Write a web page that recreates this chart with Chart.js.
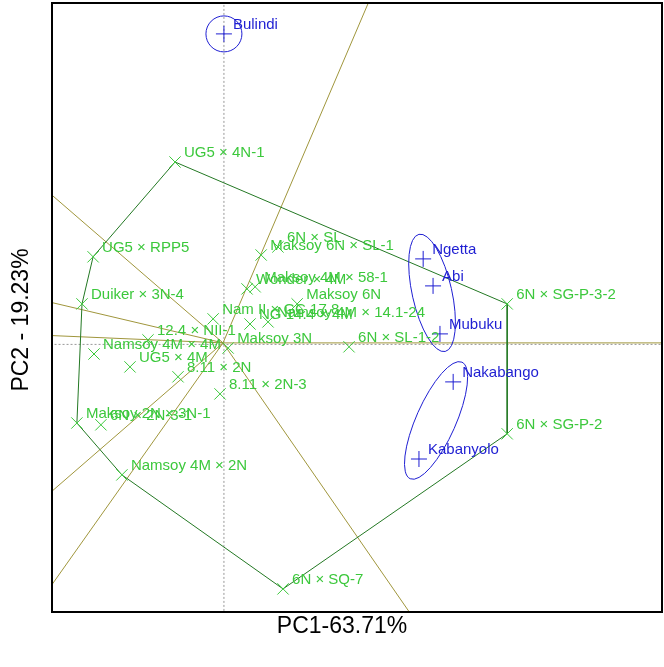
<!DOCTYPE html>
<html>
<head>
<meta charset="utf-8">
<script src="https://cdn.jsdelivr.net/npm/chart.js@4.4.0/dist/chart.umd.min.js"></script>
<style>
    html, body { margin: 0; padding: 0; background: #fff; overflow: hidden; }
    #wrap { width: 664px; height: 667px; position: relative; }
</style>
</head>
<body>
<div id="wrap"><canvas id="myChart"></canvas></div>
<script>
// Genotype scores (PC1, PC2)
const genotypes = [
    'UG5 × 4N-1', 'UG5 × RPP5', 'Duiker × 3N-4', 'Namsoy 4M × 4M', 'UG5 × 4M',
    '12.4 × NII-1', 'Nam II × GC 17.8', 'NG 14.4 × 4M', 'Namsoy 4M × 14.1-24', 'Maksoy 6N',
    'Wonder × 4M', 'Maksoy 4M × 58-1', '6N × SL', 'Maksoy 6N × SL-1', 'Maksoy 3N',
    '6N × SL-1-2', '8.11 × 2N', '8.11 × 2N-3', 'Maksoy 2N × 3N-1', '6N × 2N-3-1',
    'Namsoy 4M × 2N', '6N × SQ-7', '6N × SG-P-2', '6N × SG-P-3-2'
];
const genoPC1 = [-1.6, -4.33, -4.7, -4.3, -3.1, -2.5, -0.33, 0.9, 1.5, 2.47,
    0.8, 1.07, 1.83, 1.27, 0.17, 4.2, -1.5, -0.1, -4.87, -4.07, -3.37, 2.0, 9.47, 9.47];
const genoPC2 = [6.03, 2.87, 1.3, -0.37, -0.8, 0.1, 0.8, 0.63, 0.7, 1.3,
    1.8, 1.87, 3.2, 2.93, -0.17, -0.13, -1.13, -1.7, -2.67, -2.73, -4.4, -8.2, -3.03, 1.3];

// Environment scores
const envs = ['Bulindi', 'Ngetta', 'Abi', 'Mubuku', 'Nakabango', 'Kabanyolo'];
const envPC1 = [0.03, 6.67, 7.0, 7.23, 7.67, 6.53];
const envPC2 = [10.3, 2.8, 1.9, 0.3, -1.3, -3.87];

// Polygon vertices (which-won-where) and mega-environment groups
const hullOrder = ['UG5 × 4N-1', '6N × SG-P-3-2', '6N × SG-P-2', '6N × SQ-7',
    'Namsoy 4M × 2N', 'Maksoy 2N × 3N-1', 'Duiker × 3N-4', 'UG5 × RPP5'];
const envGroups = [['Bulindi'], ['Ngetta', 'Abi', 'Mubuku'], ['Nakabango', 'Kabanyolo']];

const xTitle = 'PC1-63.71%';
const yTitle = 'PC2 - 19.23%';

const GENO_COLOR = 'rgb(60,200,60)';
const ENV_COLOR = 'rgb(30,30,210)';
const HULL_COLOR = 'rgb(35,120,35)';
const RAY_COLOR = 'rgb(160,150,60)';
const FONT = '"Liberation Sans", Arial, sans-serif';

function genoPoint(name) {
    const i = genotypes.indexOf(name);
    return { x: genoPC1[i], y: genoPC2[i] };
}

// Hull edges closed
const hullPts = hullOrder.map(genoPoint);
hullPts.push(hullPts[0]);

// Rays from origin perpendicular to each hull edge
const rayDatasets = [];
for (let k = 0; k < hullOrder.length; k++) {
    const a = hullPts[k], b = hullPts[k + 1];
    const dx = b.x - a.x, dy = b.y - a.y;
    const t = -(a.x * dx + a.y * dy) / (dx * dx + dy * dy);
    const fx = a.x + t * dx, fy = a.y + t * dy;
    rayDatasets.push({
        data: [{ x: 0, y: 0 }, { x: fx * 50, y: fy * 50 }],
        showLine: true,
        borderColor: RAY_COLOR,
        borderWidth: 1,
        pointRadius: 0,
        order: 5
    });
}

const biplotExtras = {
    id: 'biplotExtras',
    afterDatasetsDraw(chart) {
        const ctx = chart.ctx;
        const xs = chart.scales.x, ys = chart.scales.y;
        const unit = xs.getPixelForValue(1) - xs.getPixelForValue(0);
        ctx.save();

        // ellipses round environment groups
        ctx.strokeStyle = ENV_COLOR;
        ctx.lineWidth = 1;
        envGroups.forEach(group => {
            const idx = group.map(n => envs.indexOf(n));
            const px = idx.map(i => xs.getPixelForValue(envPC1[i]));
            const py = idx.map(i => ys.getPixelForValue(envPC2[i]));
            const cx = px.reduce((s, v) => s + v, 0) / px.length;
            const cy = py.reduce((s, v) => s + v, 0) / py.length;
            ctx.beginPath();
            if (idx.length === 1) {
                ctx.arc(cx, cy, 0.6 * unit, 0, Math.PI * 2);
            } else {
                const ddx = px[px.length - 1] - px[0];
                const ddy = py[py.length - 1] - py[0];
                const half = Math.hypot(ddx, ddy) / 2 + 0.72 * unit;
                ctx.ellipse(cx, cy, half, 0.66 * unit, Math.atan2(ddy, ddx), 0, Math.PI * 2);
            }
            ctx.stroke();
        });

        // point labels
        ctx.font = '15px ' + FONT;
        ctx.textBaseline = 'middle';
        ctx.textAlign = 'left';
        ctx.fillStyle = GENO_COLOR;
        genotypes.forEach((g, i) => {
            ctx.fillText(g, xs.getPixelForValue(genoPC1[i]) + 9, ys.getPixelForValue(genoPC2[i]) - 9);
        });
        ctx.fillStyle = ENV_COLOR;
        envs.forEach((e, i) => {
            ctx.fillText(e, xs.getPixelForValue(envPC1[i]) + 9, ys.getPixelForValue(envPC2[i]) - 9);
        });
        ctx.restore();
    },
    afterDraw(chart) {
        const ctx = chart.ctx;
        const area = chart.chartArea;
        ctx.save();
        ctx.strokeStyle = '#000';
        ctx.lineWidth = 2;
        ctx.strokeRect(area.left, area.top, area.right - area.left, area.bottom - area.top);

        ctx.fillStyle = '#000';
        ctx.font = '23px ' + FONT;
        ctx.textAlign = 'center';
        ctx.textBaseline = 'middle';
        ctx.fillText(xTitle, 342, 627);
        ctx.translate(22, 320);
        ctx.rotate(-Math.PI / 2);
        ctx.fillText(yTitle, 0, 0);
        ctx.restore();
    }
};

const ctx = document.getElementById('myChart');
const myChart = new Chart(ctx, {
    type: 'scatter',
    data: {
        datasets: [
            {
                data: [{ x: 0.03, y: -100 }, { x: 0.03, y: 100 }],
                showLine: true, borderColor: '#999', borderWidth: 1,
                borderDash: [2, 2], pointRadius: 0, order: 6
            },
            {
                data: [{ x: -100, y: -0.05 }, { x: 100, y: -0.05 }],
                showLine: true, borderColor: '#999', borderWidth: 1,
                borderDash: [2, 2], pointRadius: 0, order: 6
            },
            ...rayDatasets,
            {
                data: hullPts,
                showLine: true,
                borderColor: HULL_COLOR,
                borderWidth: 1,
                pointRadius: 0,
                order: 4
            },
            {
                data: genotypes.map((g, i) => ({ x: genoPC1[i], y: genoPC2[i] })),
                pointStyle: 'crossRot',
                pointRadius: 8,
                borderColor: GENO_COLOR,
                borderWidth: 1,
                order: 2
            },
            {
                data: envs.map((e, i) => ({ x: envPC1[i], y: envPC2[i] })),
                pointStyle: 'cross',
                pointRadius: 8,
                borderColor: ENV_COLOR,
                borderWidth: 1,
                order: 1
            }
        ]
    },
    options: {
        responsive: true,
        maintainAspectRatio: false,
        animation: false,
        layout: { autoPadding: false, padding: { left: 52, right: 2, top: 3, bottom: 55 } },
        plugins: { legend: { display: false }, tooltip: { enabled: false } },
        scales: {
            x: { type: 'linear', min: -5.7, max: 14.63, display: false },
            y: { type: 'linear', min: -8.97, max: 11.33, display: false }
        }
    },
    plugins: [biplotExtras]
});
</script>
</body>
</html>
